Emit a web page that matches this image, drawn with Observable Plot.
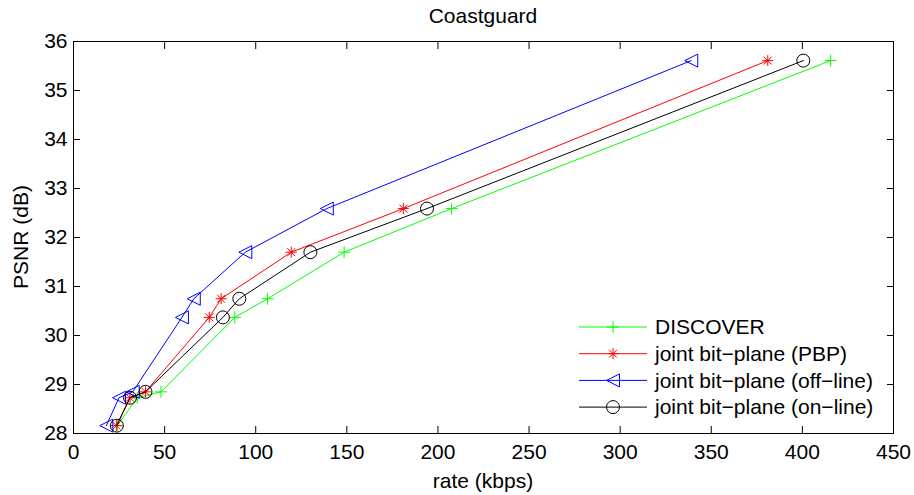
<!DOCTYPE html>
<html>
<head>
<meta charset="utf-8">
<script src="https://cdn.jsdelivr.net/npm/d3@7"></script>
<script src="https://cdn.jsdelivr.net/npm/@observablehq/plot@0.6"></script>
<style>
  html, body { margin: 0; padding: 0; background: #fff; }
  svg { display: block; }
</style>
</head>
<body>
<div id="chart"></div>
<script>
// ---- data ----
const psnr        = [28.16, 28.73, 28.85, 30.37, 30.75, 31.70, 32.59, 35.61];
const rateDiscover = [24.0, 35.0, 48.0, 88.5, 106.5, 148.5, 207.5, 415.5];
const ratePBP      = [23.5, 31.0, 39.5, 74.5, 81.0, 119.5, 181.0, 381.0];
const rateOffline  = [18.0, 25.0, 32.5, 59.5, 66.0, 94.3, 139.0, 339.0];
const rateOnline   = [23.8, 31.0, 39.5, 82.0, 91.0, 130.0, 194.0, 400.5];
const seriesNames  = ["DISCOVER", "joint bit\u2212plane (PBP)", "joint bit\u2212plane (off\u2212line)", "joint bit\u2212plane (on\u2212line)"];
const xTicks = [0, 50, 100, 150, 200, 250, 300, 350, 400, 450];
const yTicks = [28, 29, 30, 31, 32, 33, 34, 35, 36];

// ---- custom MATLAB-like markers ----
const rad = (size) => Math.sqrt(size / Math.PI);
const plusSym = { draw(c, s) { const r = rad(s); c.moveTo(-r, 0); c.lineTo(r, 0); c.moveTo(0, -r); c.lineTo(0, r); } };
const starSym = { draw(c, s) { const r = rad(s), d = r * 0.72;
  c.moveTo(-r, 0); c.lineTo(r, 0); c.moveTo(0, -r); c.lineTo(0, r);
  c.moveTo(-d, -d); c.lineTo(d, d); c.moveTo(-d, d); c.lineTo(d, -d); } };
const triLeftSym = { draw(c, s) { const r = rad(s); c.moveTo(-r, 0); c.lineTo(r, -r); c.lineTo(r, r); c.closePath(); } };
const circleSym = { draw(c, s) { const r = rad(s); c.moveTo(r, 0); c.arc(0, 0, r, 0, 2 * Math.PI); c.closePath(); } };

const series = [
  { name: seriesNames[0], rate: rateDiscover, color: "#00ff00", symbol: plusSym,    r: 6   },
  { name: seriesNames[1], rate: ratePBP,      color: "#ff0000", symbol: starSym,    r: 5.5 },
  { name: seriesNames[2], rate: rateOffline,  color: "#0000ff", symbol: triLeftSym, r: 6.5 },
  { name: seriesNames[3], rate: rateOnline,   color: "#000000", symbol: circleSym,  r: 6.5 }
];
const tables = series.map(s => s.rate.map((x, i) => ({ rate: x, psnr: psnr[i], name: s.name })));

const FONT = "'Liberation Sans', Arial, Helvetica, sans-serif";
const FS = 21;
const W = 914, H = 495;

const marks = [];
series.forEach((s, k) => {
  marks.push(Plot.line(tables[k], { x: "rate", y: "psnr", stroke: s.color, strokeWidth: 1 }));
  marks.push(Plot.dot(tables[k], { x: "rate", y: "psnr", stroke: s.color, fill: "none", symbol: s.symbol, r: s.r, strokeWidth: 1 }));
});

const chart = Plot.plot({
  width: W,
  height: H,
  marginLeft: 73,
  marginRight: 21,
  marginTop: 41,
  marginBottom: 62,
  style: { fontFamily: FONT, fontSize: FS + "px", background: "#fff", color: "#000", overflow: "visible" },
  x: { domain: [0, 450], label: null },
  y: { domain: [28, 36], label: null },
  marks: [
    ...marks,
    Plot.frame({ stroke: "#000", strokeWidth: 1 }),
    // inward tick marks on all four sides
    Plot.axisX({ ticks: xTicks, anchor: "bottom", tickSize: 7, dy: -7, tickFormat: () => "", label: null }),
    Plot.axisX({ ticks: xTicks, anchor: "top", tickSize: 7, dy: 7, tickFormat: () => "", label: null }),
    Plot.axisY({ ticks: yTicks, anchor: "left", tickSize: 7, dx: 7, tickFormat: () => "", label: null }),
    Plot.axisY({ ticks: yTicks, anchor: "right", tickSize: 7, dx: -7, tickFormat: () => "", label: null }),
    // tick labels
    Plot.axisX({ ticks: xTicks, anchor: "bottom", tickSize: 0, tickPadding: 11, tickFormat: d => String(d), label: null, fontSize: FS }),
    Plot.axisY({ ticks: yTicks, anchor: "left", tickSize: 0, tickPadding: 6, tickFormat: d => String(d), label: null, fontSize: FS })
  ]
});

const svg = d3.select(chart);
// title and axis labels
svg.append("text").attr("x", 483).attr("y", 23).attr("text-anchor", "middle")
  .attr("font-family", FONT).attr("font-size", FS).attr("fill", "#000").text("Coastguard");
svg.append("text").attr("x", 483).attr("y", 488).attr("text-anchor", "middle")
  .attr("font-family", FONT).attr("font-size", FS).attr("fill", "#000").text("rate (kbps)");
svg.append("text").attr("transform", "translate(28,237) rotate(-90)").attr("text-anchor", "middle")
  .attr("font-family", FONT).attr("font-size", FS).attr("fill", "#000").text("PSNR (dB)");

// legend inside the plot area (lower right)
const lg = svg.append("g");
series.forEach((s, i) => {
  const cy = 327 + i * 26.7;
  lg.append("line").attr("x1", 579).attr("x2", 647).attr("y1", cy).attr("y2", cy)
    .attr("stroke", s.color).attr("stroke-width", 1);
  const p = d3.path();
  s.symbol.draw(p, s.r * s.r * Math.PI);
  lg.append("path").attr("d", p.toString()).attr("transform", `translate(613,${cy})`)
    .attr("fill", "none").attr("stroke", s.color).attr("stroke-width", 1);
  lg.append("text").attr("x", 655).attr("y", cy).attr("dy", "0.35em").attr("text-anchor", "start")
    .attr("font-family", FONT).attr("font-size", FS).attr("fill", "#000").text(s.name);
});

document.getElementById("chart").appendChild(chart);
</script>
</body>
</html>
